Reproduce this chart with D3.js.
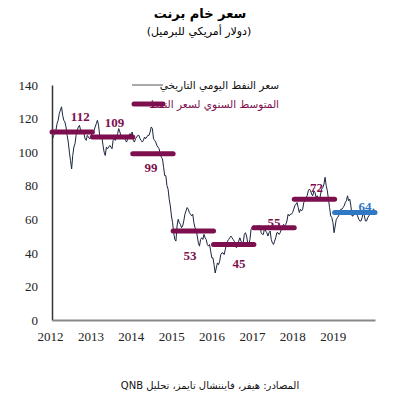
<!DOCTYPE html>
<html><head><meta charset="utf-8">
<script src="https://cdn.jsdelivr.net/npm/d3@7/dist/d3.min.js"></script>
<style>body{margin:0;background:#fff}svg{display:block}</style>
</head><body><div id="chart"></div>
<script>
// Brent price readings, three per month, Jan 2012 .. Dec 2019 (USD/bbl)
const price2012 = [108,110,111, 113,117,119, 123,125,127, 122,119,118, 115,110,106, 100,95,90, 98,103,105, 110,113,115, 116,113,111, 113,111,108, 107,110,109, 108,109,111];
const price2013 = [112,113,115, 117,119,116, 110,108,109, 104,100,98, 103,102,103, 104,103,102, 107,108,107, 109,111,114, 112,110,108, 110,109,107, 106,108,110, 111,110,112];
const price2014 = [107,106,108, 109,110,110, 108,107,106, 107,109,108, 109,110,110, 112,115,114, 108,107,106, 104,103,102, 99,97,96, 91,86,86, 80,78,72, 68,62,58];
const price2015 = [52,48,47, 56,60,58, 57,55,56, 59,63,65, 67,66,64, 63,62,63, 58,55,54, 50,46,44, 48,49,48, 51,49,48, 45,44,45, 41,37,37];
const price2016 = [33,28,31, 34,33,35, 39,40,40, 39,42,45, 47,48,49, 50,49,48, 47,44,43, 45,47,49, 47,46,46, 51,52,50, 46,45,48, 54,55,56];
const price2017 = [56,55,56, 56,56,56, 52,51,51, 55,53,52, 50,52,53, 48,46,45, 47,49,52, 52,51,52, 54,56,57, 56,57,59, 63,62,63, 63,64,66];
const price2018 = [68,69,70, 67,64,66, 65,66,70, 71,73,74, 77,78,77, 75,74,77, 76,73,74, 72,71,75, 78,79,81, 85,80,77, 72,67,62, 61,58,52];
const price2019 = [56,60,61, 62,64,66, 66,67,68, 70,71,74, 71,72,68, 62,62,65, 64,63,62, 60,59,59, 61,64,62, 59,59,61, 62,63,63, 64,66,66];
const years = [2012,2013,2014,2015,2016,2017,2018,2019];
const annualAvg = [112,109,99,53,45,55,72,64];
const yTicks = [0,20,40,60,80,100,120,140];
const labelOffsets = [[0.7,-16],[0.55,-15],[0.45,14],[0.42,24],[0.63,19],[0.5,-5],[0.55,-12],[0.75,-6]]; // layout: [year fraction, dy px]

const daily = [price2012,price2013,price2014,price2015,price2016,price2017,price2018,price2019]
  .flatMap((arr, yi) => arr.map((v, i) => ({t: years[yi] + (i + 0.5) / arr.length, v})));

const W = 393, H = 407;
const svg = d3.select("#chart").append("svg").attr("width", W).attr("height", H);
const x = d3.scaleLinear().domain([2012, 2020]).range([52, 375]);
const y = d3.scaleLinear().domain([0, 140]).range([320, 85]);

const maroon = "#7d0f4f", blue = "#2f78c4", lineCol = "#1b2540";
const arabic = "'DejaVu Sans', 'Noto Sans', sans-serif";
const serif = "'Liberation Serif', 'Times New Roman', serif";

// Titles
svg.append("text").attr("x", 200).attr("y", 18).attr("text-anchor", "middle")
  .attr("direction", "rtl").style("font-family", arabic).style("font-weight", "bold")
  .style("font-size", "13px").text("سعر خام برنت");
svg.append("text").attr("x", 199).attr("y", 35).attr("text-anchor", "middle")
  .attr("direction", "rtl").style("font-family", arabic).style("font-size", "11px")
  .text("(دولار أمريكي للبرميل)");

// Axes
const yAxis = svg.append("g").attr("transform", "translate(52,0)")
  .call(d3.axisLeft(y).tickValues(yTicks).tickSize(0).tickSizeOuter(0).tickPadding(14))
  .attr("font-family", serif);
yAxis.select(".domain").attr("stroke", "#333").attr("stroke-width", 1.5);
yAxis.selectAll("text").style("font-family", serif).style("font-size", "13px").attr("fill", "#222");

const xAxis = svg.append("g").attr("transform", "translate(0,320)")
  .call(d3.axisBottom(x).tickValues(years).tickFormat(d3.format("d")).tickSize(0).tickSizeOuter(0).tickPadding(12))
  .attr("font-family", serif);
xAxis.select(".domain").attr("stroke", "#888").attr("stroke-width", 2);
xAxis.selectAll("text").attr("dx", -2).style("font-family", serif).style("font-size", "13px").attr("fill", "#222");

// Daily line
svg.append("path").datum(daily)
  .attr("fill", "none").attr("stroke", lineCol).attr("stroke-width", 1)
  .attr("d", d3.line().x(d => x(d.t)).y(d => y(d.v)));

// Annual average bars
svg.selectAll(".avg").data(annualAvg).join("line")
  .attr("x1", (d, i) => x(years[i])).attr("x2", (d, i) => x(years[i] + 1))
  .attr("y1", d => y(d)).attr("y2", d => y(d))
  .attr("stroke", (d, i) => i === 7 ? blue : maroon)
  .attr("stroke-width", 5).attr("stroke-linecap", "round");

svg.selectAll(".avgLbl").data(annualAvg).join("text")
  .attr("x", (d, i) => x(years[i] + labelOffsets[i][0]))
  .attr("y", (d, i) => y(d) + labelOffsets[i][1])
  .attr("dy", "0.35em").attr("text-anchor", "middle")
  .style("font-family", serif).style("font-weight", "bold").style("font-size", "13px")
  .attr("fill", (d, i) => i === 7 ? blue : maroon)
  .text(d => d);

// Legend
svg.append("line").attr("x1", 132).attr("x2", 163).attr("y1", 85).attr("y2", 85)
  .attr("stroke", "#555").attr("stroke-width", 1);
svg.append("text").attr("x", 279).attr("y", 89).attr("text-anchor", "start").attr("direction", "rtl")
  .style("font-family", arabic).style("font-size", "10.5px").attr("fill", "#111")
  .text("سعر النفط اليومي التاريخي");
svg.append("line").attr("x1", 134).attr("x2", 163).attr("y1", 104).attr("y2", 104)
  .attr("stroke", maroon).attr("stroke-width", 5).attr("stroke-linecap", "round");
svg.append("text").attr("x", 279).attr("y", 108).attr("text-anchor", "start").attr("direction", "rtl")
  .style("font-family", arabic).style("font-size", "10.5px").attr("fill", maroon)
  .text("المتوسط السنوي لسعر النفط");

// Source
svg.append("text").attr("x", 210).attr("y", 389).attr("text-anchor", "middle").attr("direction", "rtl")
  .style("font-family", arabic).style("font-size", "10px").attr("fill", "#111")
  .text("المصادر: هيفر، فايننشال تايمز، تحليل QNB");
</script></body></html>
